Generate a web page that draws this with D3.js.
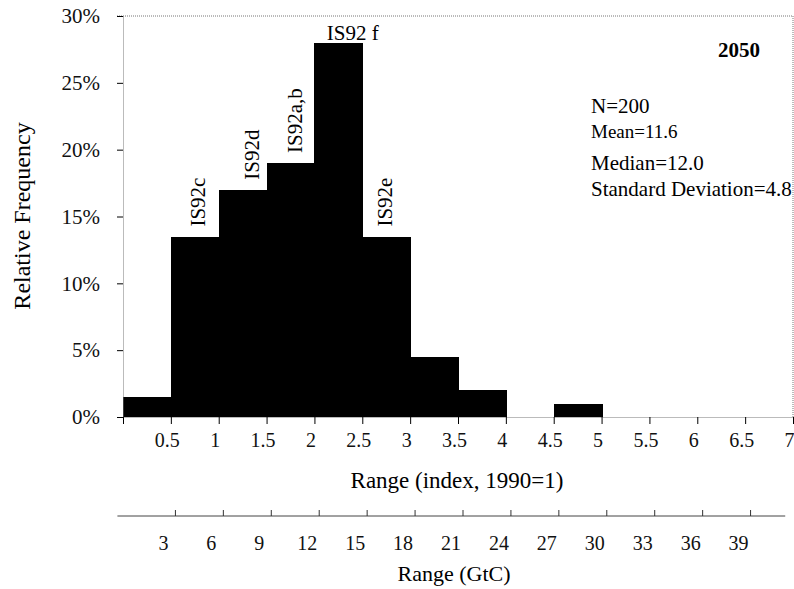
<!DOCTYPE html>
<html>
<head>
<meta charset="utf-8">
<script src="https://cdn.jsdelivr.net/npm/d3@7"></script>
<style>
  body { margin: 0; background: #fff; }
  svg { display: block; font-family: "Liberation Serif", "DejaVu Serif", serif; }
</style>
</head>
<body>
<svg width="794" height="589"></svg>
<script>
// histogram bins (index, 1990=1) and relative frequency in %
const binStart = [0, 0.5, 1, 1.5, 2, 2.5, 3, 3.5, 4, 4.5];
const frequency = [1.5, 13.5, 17, 19, 28, 13.5, 4.5, 2, 0, 1];
const binWidth = 0.5;

const indexTicks = [0, 0.5, 1, 1.5, 2, 2.5, 3, 3.5, 4, 4.5, 5, 5.5, 6, 6.5, 7];
const pctTicks = [0, 5, 10, 15, 20, 25, 30];
const gtcTicks = [3, 6, 9, 12, 15, 18, 21, 24, 27, 30, 33, 36, 39];

// scenario labels sitting on the bars
const scenLabels = ["IS92c", "IS92d", "IS92a,b", "IS92 f", "IS92e"];
const scenX = [0.78, 1.35, 1.8, 2.4, 2.74];
const scenY = [13.5, 17, 19, 28, 13.5];
const scenRotated = [true, true, true, false, true];

const stats = ["N=200", "Mean=11.6", "Median=12.0", "Standard Deviation=4.8"];

const svg = d3.select("svg");
const pLeft = 123, pRight = 793, pTop = 16, pBottom = 417;

const x = d3.scaleLinear().domain([0, 7]).range([pLeft, pRight]);
const y = d3.scaleLinear().domain([0, 30]).range([pBottom, pTop]);
const g = d3.scaleLinear().domain([0, 42]).range([127, 798]);

// dotted frame (top, right)
svg.append("path")
  .attr("d", `M${pLeft - 6},${pTop}H${pRight}V${pBottom}`)
  .attr("fill", "none")
  .attr("stroke", "#777")
  .attr("stroke-dasharray", "1,1");

// bars
svg.append("g")
  .attr("shape-rendering", "crispEdges")
  .selectAll("rect")
  .data(binStart.map((b, i) => ({ b, v: frequency[i] })).filter(d => d.v > 0))
  .join("rect")
  .attr("x", d => Math.round(x(d.b)))
  .attr("y", d => Math.round(y(d.v)))
  .attr("width", d => Math.round(x(d.b + binWidth)) - Math.round(x(d.b)) + 1)
  .attr("height", d => Math.round(y(0)) - Math.round(y(d.v)))
  .attr("fill", "#000");

// y axis
const yAxis = svg.append("g")
  .attr("transform", `translate(${pLeft},0)`)
  .call(d3.axisLeft(y).tickValues(pctTicks).tickFormat(d => d + "%").tickSize(6).tickSizeOuter(0).tickPadding(17));
yAxis.select(".domain").attr("stroke", "#777").attr("stroke-dasharray", "1,1");
yAxis.selectAll("text").attr("font-size", 21).attr("font-family", "Liberation Serif").attr("fill", "#111");

// x axis (index)
const xAxis = svg.append("g")
  .attr("transform", `translate(0,${pBottom})`)
  .call(d3.axisBottom(x).tickValues(indexTicks).tickFormat(d => d === 0 ? "" : d3.format("")(d)).tickSize(7).tickSizeOuter(0).tickPadding(9));
xAxis.select(".domain").attr("stroke", "#777").attr("stroke-dasharray", "1,1");
xAxis.selectAll("text").attr("font-size", 20).attr("font-family", "Liberation Serif").attr("fill", "#111").attr("dx", -4);

// second axis (GtC)
const gAxis = svg.append("g")
  .attr("transform", "translate(0,516)")
  .call(d3.axisBottom(g).tickValues(gtcTicks).tickSize(-6).tickSizeOuter(0).tickPadding(20));
gAxis.select(".domain").attr("d", `M${g(-0.6)},0H${g(41.2)}`).attr("stroke", "#444");
gAxis.selectAll("line").attr("stroke", "#333");
gAxis.selectAll("text").attr("font-size", 20).attr("font-family", "Liberation Serif").attr("fill", "#111").attr("dx", -12);

// axis titles
svg.append("text")
  .attr("transform", "translate(30,216) rotate(-90)")
  .attr("text-anchor", "middle")
  .attr("font-size", 24)
  .text("Relative Frequency");

svg.append("text")
  .attr("x", 457).attr("y", 488)
  .attr("text-anchor", "middle")
  .attr("font-size", 23)
  .text("Range (index, 1990=1)");

svg.append("text")
  .attr("x", 454).attr("y", 581)
  .attr("text-anchor", "middle")
  .attr("font-size", 22)
  .text("Range (GtC)");

// scenario annotations
scenLabels.forEach((t, i) => {
  const tx = x(scenX[i]);
  if (scenRotated[i]) {
    const ty = y(scenY[i]) - 10;
    svg.append("text")
      .attr("transform", `translate(${tx + 7},${ty}) rotate(-90)`)
      .attr("font-size", 21)
      .text(t);
  } else {
    svg.append("text")
      .attr("x", tx).attr("y", y(scenY[i]) - 3)
      .attr("text-anchor", "middle")
      .attr("font-size", 21)
      .text(t);
  }
});

// year and statistics
svg.append("text")
  .attr("x", 760).attr("y", 57)
  .attr("text-anchor", "end")
  .attr("font-size", 21)
  .attr("font-weight", "bold")
  .text("2050");

const statY = [113, 138, 170, 196];
const statSize = [21, 19, 21, 21];
stats.forEach((s, i) => {
  svg.append("text")
    .attr("x", 591).attr("y", statY[i])
    .attr("font-size", statSize[i])
    .text(s);
});
</script>
</body>
</html>
